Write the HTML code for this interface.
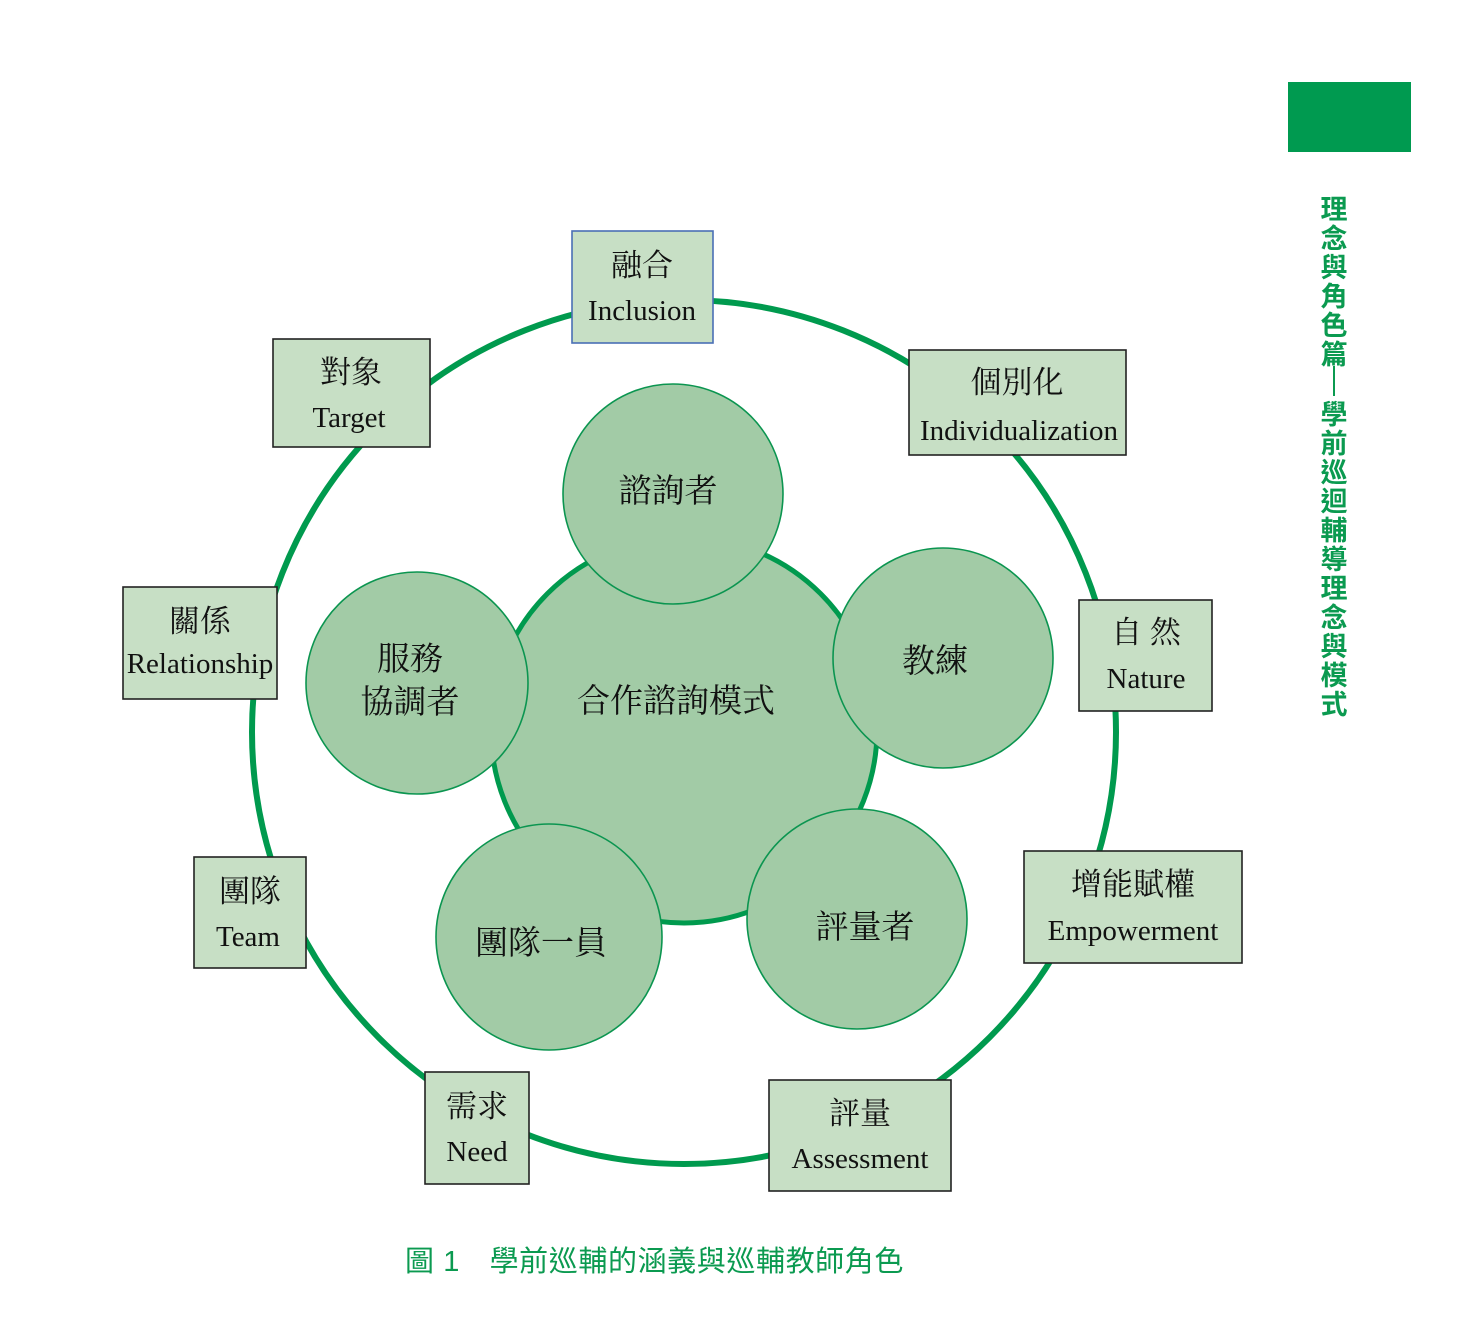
<!DOCTYPE html>
<html><head><meta charset="utf-8"><style>
html,body{margin:0;padding:0;background:#fff;}
svg{display:block;}
.cn{font-family:"Liberation Serif","Noto Serif CJK SC",serif;fill:#111;}
.en{font-family:"Liberation Serif",serif;fill:#111;}
.bx{fill:#c7dfc5;stroke:#222;stroke-width:1.6;}
.sc{fill:#a2cba6;stroke:#0b9550;stroke-width:1.6;}
</style></head><body>
<svg width="1470" height="1332" viewBox="0 0 1470 1332" xmlns="http://www.w3.org/2000/svg">
<rect x="1288" y="82" width="123" height="70" fill="#009a50"/>
<circle cx="684" cy="732" r="432" fill="none" stroke="#009a4e" stroke-width="6"/>
<circle cx="684" cy="730" r="193" fill="#a2cba6" stroke="#009a4e" stroke-width="5"/>
<circle class="sc" cx="673" cy="494" r="110"/>
<circle class="sc" cx="943" cy="658" r="110"/>
<circle class="sc" cx="857" cy="919" r="110"/>
<circle class="sc" cx="549" cy="937" r="113"/>
<circle class="sc" cx="417" cy="683" r="111"/>
<g class="cn" font-size="33" text-anchor="middle">
<text x="676" y="712">合作諮詢模式</text>
<text x="668" y="502">諮詢者</text>
<text x="935" y="672">教練</text>
<text x="865" y="938">評量者</text>
<text x="541" y="954">團隊一員</text>
<text x="410" y="670">服務</text>
<text x="410" y="713">協調者</text>
</g>
<rect x="572" y="231" width="141" height="112" fill="#c7dfc5" stroke="#4a6fb5" stroke-width="1.6"/>
<rect class="bx" x="273" y="339" width="157" height="108"/>
<rect class="bx" x="909" y="350" width="217" height="105"/>
<rect class="bx" x="123" y="587" width="154" height="112"/>
<rect class="bx" x="1079" y="600" width="133" height="111"/>
<rect class="bx" x="194" y="857" width="112" height="111"/>
<rect class="bx" x="1024" y="851" width="218" height="112"/>
<rect class="bx" x="425" y="1072" width="104" height="112"/>
<rect class="bx" x="769" y="1080" width="182" height="111"/>
<g class="cn" font-size="31" text-anchor="middle">
<text x="642" y="276">融合</text>
<text x="351" y="383">對象</text>
<text x="1017" y="393">個別化</text>
<text x="200" y="632">關係</text>
<text x="1146" y="643">自 然</text>
<text x="250" y="902">團隊</text>
<text x="1133" y="895">增能賦權</text>
<text x="477" y="1117">需求</text>
<text x="860" y="1124">評量</text>
</g>
<g class="en" font-size="29" text-anchor="middle">
<text x="642" y="320">Inclusion</text>
<text x="349" y="427">Target</text>
<text x="1019" y="440">Individualization</text>
<text x="200" y="673">Relationship</text>
<text x="1146" y="688">Nature</text>
<text x="248" y="946">Team</text>
<text x="1133" y="940">Empowerment</text>
<text x="477" y="1161">Need</text>
<text x="860" y="1168">Assessment</text>
</g>
<text x="405" y="1271" font-family="Liberation Sans,'Noto Sans CJK TC',sans-serif" font-size="29" letter-spacing="0.6" fill="#0b9a50">圖 1　學前巡輔的涵義與巡輔教師角色</text>
<line x1="1334" y1="366" x2="1334" y2="396" stroke="#0b9a50" stroke-width="2"/>
<g font-family="Liberation Sans,'Noto Sans CJK TC',sans-serif" font-size="27" font-weight="bold" fill="#0b9a50" text-anchor="middle">
<text x="1334" y="219">理</text><text x="1334" y="248">念</text><text x="1334" y="277">與</text><text x="1334" y="306">角</text><text x="1334" y="335">色</text><text x="1334" y="364">篇</text>
<text x="1334" y="424">學</text><text x="1334" y="453">前</text><text x="1334" y="482">巡</text><text x="1334" y="511">迴</text><text x="1334" y="540">輔</text><text x="1334" y="569">導</text><text x="1334" y="598">理</text><text x="1334" y="627">念</text><text x="1334" y="656">與</text><text x="1334" y="685">模</text><text x="1334" y="714">式</text>
</g>
</svg>
</body></html>
